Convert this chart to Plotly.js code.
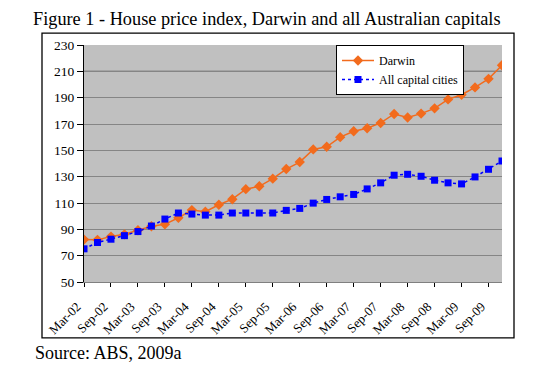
<!DOCTYPE html>
<html>
<head>
<meta charset="utf-8">
<script src="https://cdn.plot.ly/plotly-3.0.1.min.js"></script>
<style>html,body{margin:0;padding:0;background:#fff;}#chart{width:549px;height:376px;}</style>
</head>
<body>
<div id="chart"></div>
<script>
var quarters = ["Mar-02","Jun-02","Sep-02","Dec-02","Mar-03","Jun-03","Sep-03","Dec-03",
  "Mar-04","Jun-04","Sep-04","Dec-04","Mar-05","Jun-05","Sep-05","Dec-05",
  "Mar-06","Jun-06","Sep-06","Dec-06","Mar-07","Jun-07","Sep-07","Dec-07",
  "Mar-08","Jun-08","Sep-08","Dec-08","Mar-09","Jun-09","Sep-09","Dec-09"];
var darwin = [82.2, 82.0, 84.5, 86.2, 89.3, 92.3, 93.8, 98.8, 104.6, 103.4, 108.7, 112.9,
  120.5, 122.7, 128.5, 135.8, 141.1, 150.7, 152.7, 160.0, 164.5, 166.8, 170.8, 177.6,
  174.9, 177.9, 181.9, 188.7, 192.2, 197.8, 204.3, 214.6];
var allCapitals = [75.2, 80.0, 82.5, 85.2, 88.3, 92.5, 97.8, 102.4, 101.6, 100.8, 100.8, 102.4,
  102.4, 102.4, 102.4, 104.4, 105.9, 109.9, 112.7, 114.7, 116.5, 120.7, 125.3, 131.1,
  131.8, 130.3, 127.3, 125.3, 124.5, 129.8, 135.6, 141.9];
var tickLabels = ["Mar-02","Sep-02","Mar-03","Sep-03","Mar-04","Sep-04","Mar-05","Sep-05",
  "Mar-06","Sep-06","Mar-07","Sep-07","Mar-08","Sep-08","Mar-09","Sep-09"];
var yTicks = [50, 70, 90, 110, 130, 150, 170, 190, 210, 230];

var serif = "Liberation Serif, Times New Roman, serif";
var pad = "\u00a0\u00a0\u00a0";

var traces = [
  {
    x: quarters, y: darwin, name: "Darwin", type: "scatter", mode: "lines+markers",
    line: {color: "#f26b1d", width: 1.5},
    marker: {symbol: "diamond", size: 8, color: "#f26b1d"}
  },
  {
    x: quarters, y: allCapitals, name: "All capital cities", type: "scatter", mode: "lines+markers",
    line: {color: "#0000ff", width: 1.5, dash: "dot"},
    marker: {symbol: "square", size: 7, color: "#0000ff"}
  }
];

var W = 549, H = 376, L = 84, R = 47, T = 45, B = 93.5;
var pw = W - L - R, ph = H - T - B;
function px2x(p){ return (p - L) / pw; }
function py2y(p){ return (H - B - p) / ph; }

var layout = {
  width: W, height: H,
  margin: {l: L, r: R, t: T, b: B},
  paper_bgcolor: "#ffffff",
  plot_bgcolor: "#c0c0c0",
  font: {family: serif, color: "#000", size: 13},
  title: {
    text: "Figure 1 - House price index, Darwin and all Australian capitals",
    font: {family: serif, size: 18.3, color: "#000"},
    xref: "container", yref: "container",
    x: 33 / W, xanchor: "left",
    y: 1 - 18.5 / H, yanchor: "middle"
  },
  xaxis: {
    type: "category",
    range: [0, 31],
    tickmode: "array",
    tickvals: tickLabels,
    ticktext: tickLabels.map(function(t){ return t + pad; }),
    tickangle: -45,
    ticks: "outside", ticklen: 4, tickcolor: "#000",
    tickfont: {family: serif, size: 13, color: "#000"},
    showgrid: false,
    showline: true, linecolor: "#808080", linewidth: 1,
    zeroline: false,
    fixedrange: true
  },
  yaxis: {
    range: [50, 230],
    tickmode: "array",
    tickvals: yTicks,
    ticks: "outside", ticklen: 6, tickcolor: "#000",
    tickfont: {family: serif, size: 13.5, color: "#000"},
    showgrid: true, gridcolor: "#858585", gridwidth: 1,
    showline: true, linecolor: "#000", linewidth: 1,
    zeroline: false,
    fixedrange: true
  },
  legend: {
    x: px2x(336), xanchor: "left",
    y: 1, yanchor: "top",
    bgcolor: "#ffffff", bordercolor: "#000", borderwidth: 1,
    font: {family: serif, size: 12, color: "#000"},
    itemwidth: 32,
    tracegroupgap: 0
  },
  shapes: [
    {type: "line", xref: "paper", yref: "y", x0: 0, x1: 1, y0: 210, y1: 210,
     line: {color: "#222", width: 1}, layer: "between"},
    {type: "rect", xref: "paper", yref: "paper",
     x0: px2x(42), x1: px2x(514), y0: py2y(338.5), y1: py2y(33),
     line: {color: "#000", width: 1.3}, fillcolor: "rgba(0,0,0,0)", layer: "above"}
  ],
  annotations: [
    {text: "Source: ABS, 2009a", xref: "paper", yref: "paper",
     x: px2x(33), xanchor: "left", y: py2y(353.5), yanchor: "middle",
     showarrow: false, font: {family: serif, size: 18, color: "#000"}}
  ],
  showlegend: true
};

Plotly.newPlot("chart", traces, layout, {displayModeBar: false, staticPlot: true});
</script>
</body>
</html>
